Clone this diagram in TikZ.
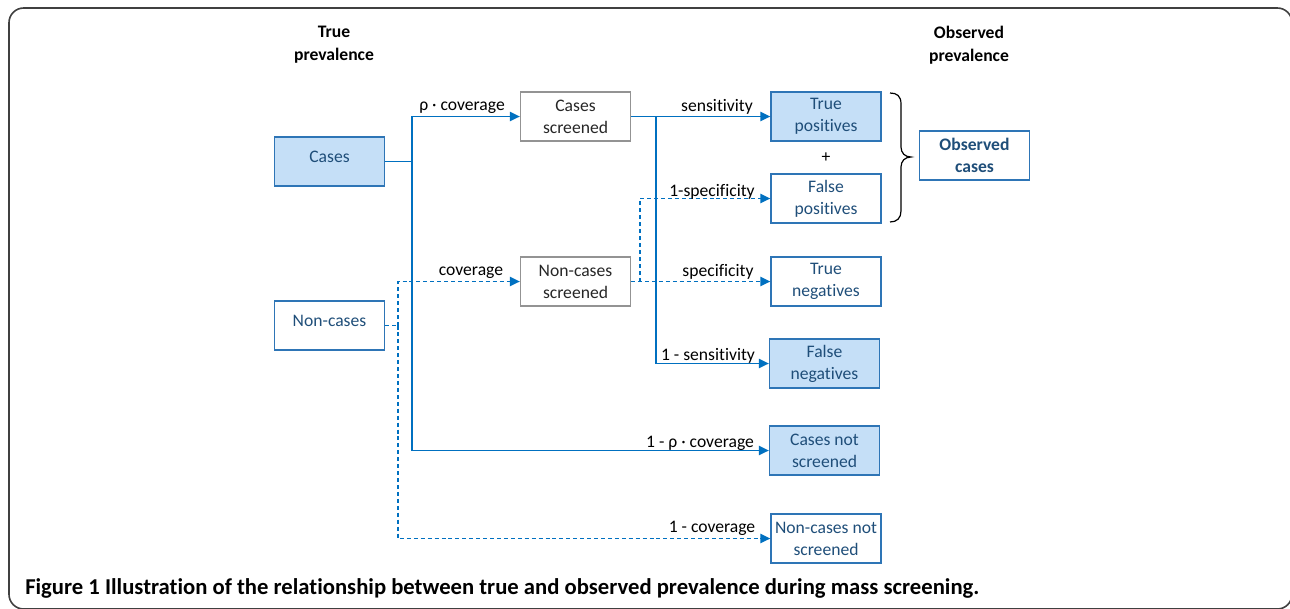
\documentclass[tikz,border=0pt]{standalone}
\usepackage{fontspec}
\setmainfont[Ligatures={NoCommon}]{Carlito}
\usetikzlibrary{arrows.meta}
\definecolor{lineblue}{HTML}{0070C0}
\definecolor{boxblue}{HTML}{2E75B6}
\definecolor{fillblue}{HTML}{C5DFF7}
\definecolor{textblue}{HTML}{1F4E79}
\definecolor{framegray}{HTML}{404040}
\newcommand{\upline}[1]{\raisebox{7.5pt}{#1}}
\begin{document}
\begin{tikzpicture}[x=0.75pt,y=-0.75pt,
  box/.style={draw=boxblue,line width=1pt,minimum width=82.5pt,minimum height=36.75pt,
    inner sep=0pt,align=center,text=textblue,font=\fontsize{13.2}{16.5}\selectfont},
  filledbox/.style={box,fill=fillblue},
  graybox/.style={box,draw=gray!85,text=black!85},
  conn/.style={draw=lineblue,line width=1.1pt},
  arr/.style={conn,-{Triangle[length=7.5pt,width=7pt]}},
  dsh/.style={dash pattern=on 3pt off 2.2pt},
  lbl/.style={font=\fontsize{13.2}{15}\selectfont,inner sep=0pt,text=black},
  hdr/.style={font=\bfseries\fontsize{13.2}{17}\selectfont,align=center,inner sep=0pt}]
\useasboundingbox (0,0) rectangle (1290,608);
\begin{scope}
\clip (0,0) rectangle (1290,608);
\draw[framegray,line width=1.2pt,rounded corners=11pt] (9,8) rectangle (1292,609);
\end{scope}
% headers
\node[hdr] (htrue) at (334,45) {True\\prevalence};
\node[hdr] (hobs) at (969,45) {Observed\\prevalence};
% boxes
\node[filledbox] (cases) at (329.5,161.5) {\upline{Cases}};
\node[box] (ncases) at (329.5,325.5) {\upline{Non-cases}};
\node[graybox] (cs) at (575.5,116.5) {Cases\\screened};
\node[graybox] (ncs) at (575.5,281.5) {Non-cases\\screened};
\node[filledbox] (tp) at (826,116.5) {True\\positives};
\node[box] (fp) at (826,198.5) {False\\positives};
\node[box] (tn) at (826,281.5) {True\\negatives};
\node[filledbox] (fn) at (824.5,363.5) {False\\negatives};
\node[filledbox] (cns) at (824.5,450.5) {Cases not\\screened};
\node[box] (ncns) at (826,538.5) {Non-cases not\\screened};
\node[box,font=\bfseries\fontsize{13.2}{17}\selectfont] (obs) at (974.5,155.5) {Observed\\cases};
\node[lbl] (plus) at (826,158) {+};
% brace
\draw[black,line width=0.9pt] (890,93) .. controls (897,93) and (901,96) .. (901,104) -- (901,147)
  .. controls (901,153) and (905,157) .. (911,157) .. controls (905,157) and (901,161) .. (901,167)
  -- (901,211) .. controls (901,218) and (897,222) .. (890,222);
% junctions
\coordinate (jc) at (412,161.5);
\coordinate (jn) at (398,325.5);
\coordinate (js) at (656,116.5);
\coordinate (jf) at (640,281.5);
% connectors
\draw[conn] (cases.east) -- (jc);
\draw[arr] (jc) |- (cs.west);
\draw[arr] (jc) |- (cns.west);
\draw[conn,dsh] (ncases.east) -- (jn);
\draw[arr,dsh] (jn) |- (ncs.west);
\draw[arr,dsh] (jn) |- (ncns.west);
\draw[arr] (cs.east) -- (tp.west);
\draw[arr] (js) |- (fn.west);
\draw[arr,dsh] (ncs.east) -- (tn.west);
\draw[arr,dsh] (jf) |- (fp.west);
% labels
\node[lbl] (l1) at (462,108) {ρ · coverage};
\node[lbl] (l2) at (471,273) {coverage};
\node[lbl] (l3) at (717,107) {sensitivity};
\node[lbl] (l4) at (712,192) {1-specificity};
\node[lbl] (l5) at (718,272) {specificity};
\node[lbl] (l6) at (708,356) {1 - sensitivity};
\node[lbl] (l7) at (700,443) {1 - ρ · coverage};
\node[lbl] (l8) at (712,528) {1 - coverage};
% caption
\node[anchor=west,inner sep=0pt,font=\bfseries\fontsize{17}{19}\selectfont] (cap) at (25,588)
  {Figure 1 Illustration of the relationship between true and observed prevalence during mass screening.};
\end{tikzpicture}
\end{document}
